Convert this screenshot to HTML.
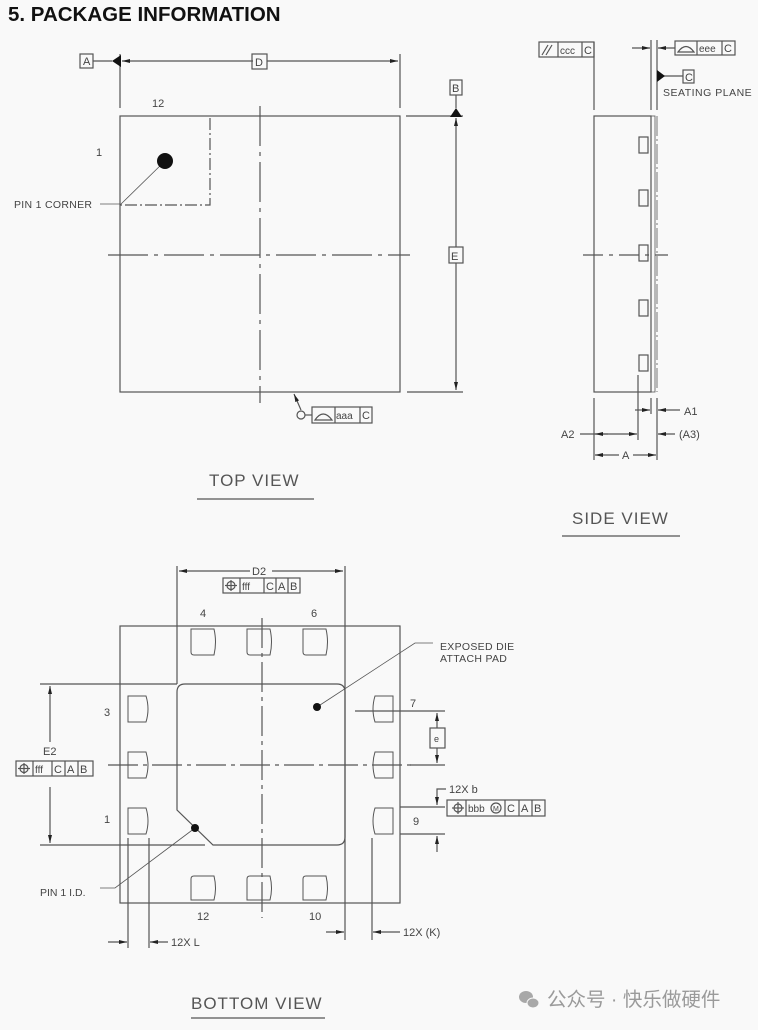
<!DOCTYPE html>
<html><head><meta charset="utf-8"><style>
html,body{margin:0;padding:0;background:#f9f9f9;width:758px;height:1030px;overflow:hidden}
svg{display:block}
text{font-family:"Liberation Sans",sans-serif;fill:#444}
</style></head><body>
<svg width="758" height="1030" viewBox="0 0 758 1030" xmlns="http://www.w3.org/2000/svg">
<defs>
<marker id="ar" markerWidth="8" markerHeight="6" refX="8" refY="3" orient="auto" markerUnits="userSpaceOnUse"><path d="M0,1 L8,3 L0,5Z" fill="#222"/></marker>
</defs>
<text x="8" y="21" style="font-size:20.5px;font-weight:bold;fill:#111">5. PACKAGE INFORMATION</text>

<g stroke="#555" stroke-width="1.2" fill="none">
<!-- TOP VIEW -->
<rect x="120" y="116" width="280" height="276"/>
<line x1="260" y1="106" x2="260" y2="403" stroke-dasharray="40,6,4,6"/>
<line x1="108" y1="255" x2="410" y2="255" stroke-dasharray="40,6,4,6"/>
<polyline points="210,118 210,205 120,205" stroke-dasharray="12,3,2,3"/>
<line x1="165" y1="161" x2="120" y2="205" stroke-width="0.8"/>
<line x1="100" y1="204" x2="120" y2="204" stroke-width="0.8"/>
<line x1="120" y1="54" x2="120" y2="108"/>
<line x1="400" y1="54" x2="400" y2="108"/>
<line x1="253" y1="61" x2="122" y2="61" marker-end="url(#ar)"/>
<line x1="267" y1="61" x2="398" y2="61" marker-end="url(#ar)"/>
<line x1="93" y1="61" x2="112" y2="61"/>
<rect x="80" y="54" width="13" height="14"/>
<rect x="252" y="54" width="15" height="15"/>
<line x1="406" y1="116" x2="463" y2="116"/>
<line x1="407" y1="392" x2="463" y2="392"/>
<line x1="456" y1="95" x2="456" y2="108"/>
<line x1="456" y1="247" x2="456" y2="118" marker-end="url(#ar)"/>
<line x1="456" y1="263" x2="456" y2="390" marker-end="url(#ar)"/>
<rect x="450" y="80" width="12" height="15"/>
<rect x="449" y="247" width="14" height="16"/>
<line x1="301" y1="410" x2="294" y2="394" marker-end="url(#ar)"/>
<circle cx="301" cy="415" r="4"/>
<line x1="305" y1="415" x2="312" y2="415"/>
<rect x="312" y="407" width="60" height="16"/>
<line x1="335" y1="407" x2="335" y2="423"/><line x1="360" y1="407" x2="360" y2="423"/>
<path d="M315,420 Q323,408 332,420 Z"/>
<line x1="197" y1="499" x2="314" y2="499"/>

<!-- SIDE VIEW -->
<rect x="594" y="116" width="57" height="276"/>
<rect x="651" y="116" width="4" height="276" stroke-width="0.8"/>
<line x1="657" y1="116" x2="657" y2="392" stroke-dasharray="20,3,2,3" stroke-width="0.8"/>
<line x1="651" y1="40" x2="651" y2="110"/>
<line x1="657" y1="40" x2="657" y2="110"/>
<line x1="594" y1="42" x2="594" y2="110"/>
<rect x="539" y="42" width="55" height="15"/>
<line x1="558" y1="42" x2="558" y2="57"/><line x1="582" y1="42" x2="582" y2="57"/>
<line x1="542" y1="55" x2="548" y2="45"/><line x1="546" y1="55" x2="552" y2="45"/>
<line x1="632" y1="48" x2="650" y2="48" marker-end="url(#ar)"/>
<line x1="675" y1="48" x2="658" y2="48" marker-end="url(#ar)"/>
<rect x="675" y="41" width="60" height="14"/>
<line x1="697" y1="41" x2="697" y2="55"/><line x1="722" y1="41" x2="722" y2="55"/>
<path d="M678,52 Q686,41 694,52 Z"/>
<line x1="664" y1="76" x2="683" y2="76"/>
<rect x="683" y="70" width="11" height="13"/>
<rect x="639" y="137" width="9" height="16"/><rect x="639" y="190" width="9" height="16"/>
<rect x="639" y="245" width="9" height="16"/><rect x="639" y="300" width="9" height="16"/>
<rect x="639" y="355" width="9" height="16"/>
<line x1="583" y1="255" x2="668" y2="255" stroke-dasharray="20,6,4,6"/>
<line x1="594" y1="398" x2="594" y2="460"/>
<line x1="638" y1="375" x2="638" y2="440"/>
<line x1="651" y1="398" x2="651" y2="414"/>
<line x1="657" y1="398" x2="657" y2="460"/>
<line x1="635" y1="410" x2="650" y2="410" marker-end="url(#ar)"/>
<line x1="680" y1="410" x2="658" y2="410" marker-end="url(#ar)"/>
<line x1="580" y1="434" x2="637" y2="434" marker-end="url(#ar)"/>
<line x1="608" y1="434" x2="595" y2="434" marker-end="url(#ar)"/>
<line x1="675" y1="434" x2="658" y2="434" marker-end="url(#ar)"/>
<line x1="619" y1="455" x2="595" y2="455" marker-end="url(#ar)"/>
<line x1="633" y1="455" x2="656" y2="455" marker-end="url(#ar)"/>
<line x1="562" y1="536" x2="680" y2="536"/>

<!-- BOTTOM VIEW -->
<rect x="120" y="626" width="280" height="277"/>
<path d="M185,684 H337 Q345,684 345,692 V837 Q345,845 337,845 H213 L177,810 V692 Q177,684 185,684 Z"/>
<line x1="262" y1="618" x2="262" y2="918" stroke-dasharray="30,5,4,5"/>
<line x1="108" y1="765" x2="415" y2="765" stroke-dasharray="30,5,4,5"/>
<g stroke-width="1">
<path d="M191,629 H214 Q217,642 214,655 H194 Q191,655 191,652 Z"/>
<path d="M247,629 H270 Q273,642 270,655 H250 Q247,655 247,652 Z"/>
<path d="M303,629 H326 Q329,642 326,655 H306 Q303,655 303,652 Z"/>
<path d="M191,900 V879 Q191,876 194,876 H214 Q217,888 214,900 Z"/>
<path d="M247,900 V879 Q247,876 250,876 H270 Q273,888 270,900 Z"/>
<path d="M303,900 V879 Q303,876 306,876 H326 Q329,888 326,900 Z"/>
<path d="M128,696 H146 Q150,709 146,722 H128 Z"/>
<path d="M128,752 H146 Q150,765 146,778 H128 Z"/>
<path d="M128,808 H146 Q150,821 146,834 H128 Z"/>
<path d="M393,696 H375 Q371,709 375,722 H393 Z"/>
<path d="M393,752 H375 Q371,765 375,778 H393 Z"/>
<path d="M393,808 H375 Q371,821 375,834 H393 Z"/>
</g>
<line x1="177" y1="566" x2="177" y2="684"/>
<line x1="345" y1="566" x2="345" y2="940"/>
<line x1="250" y1="571" x2="179" y2="571" marker-end="url(#ar)"/>
<line x1="272" y1="571" x2="343" y2="571" marker-end="url(#ar)"/>
<rect x="223" y="578" width="77" height="15"/>
<line x1="240" y1="578" x2="240" y2="593"/><line x1="264" y1="578" x2="264" y2="593"/><line x1="276" y1="578" x2="276" y2="593"/><line x1="288" y1="578" x2="288" y2="593"/>
<circle cx="231" cy="585.5" r="4"/><line x1="225" y1="585.5" x2="237" y2="585.5"/><line x1="231" y1="580" x2="231" y2="591"/>
<line x1="40" y1="684" x2="177" y2="684"/>
<line x1="40" y1="845" x2="205" y2="845"/>
<line x1="50" y1="742" x2="50" y2="686" marker-end="url(#ar)"/>
<line x1="50" y1="787" x2="50" y2="843" marker-end="url(#ar)"/>
<rect x="16" y="761" width="77" height="15"/>
<line x1="33" y1="761" x2="33" y2="776"/><line x1="52" y1="761" x2="52" y2="776"/><line x1="65" y1="761" x2="65" y2="776"/><line x1="78" y1="761" x2="78" y2="776"/>
<circle cx="24" cy="768.5" r="4"/><line x1="18" y1="768.5" x2="30" y2="768.5"/><line x1="24" y1="763" x2="24" y2="774"/>
<line x1="355" y1="711" x2="445" y2="711"/>
<line x1="410" y1="765" x2="445" y2="765"/>
<line x1="437" y1="728" x2="437" y2="713" marker-end="url(#ar)"/>
<line x1="437" y1="748" x2="437" y2="763" marker-end="url(#ar)"/>
<rect x="430" y="728" width="15" height="20"/>
<line x1="400" y1="807" x2="445" y2="807"/>
<line x1="400" y1="834" x2="445" y2="834"/>
<polyline points="446,789 437,789 437,805" marker-end="url(#ar)"/>
<line x1="437" y1="852" x2="437" y2="836" marker-end="url(#ar)"/>
<rect x="447" y="800" width="98" height="16"/>
<line x1="466" y1="800" x2="466" y2="816"/><line x1="505" y1="800" x2="505" y2="816"/><line x1="519" y1="800" x2="519" y2="816"/><line x1="532" y1="800" x2="532" y2="816"/>
<circle cx="458" cy="808" r="4"/><line x1="452" y1="808" x2="464" y2="808"/><line x1="458" y1="802" x2="458" y2="814"/>
<circle cx="496" cy="808" r="5"/>
<polyline points="317,707 415,643 433,643" stroke-width="0.8"/>
<polyline points="195,828 115,888 100,888" stroke-width="0.8"/>
<line x1="128" y1="838" x2="128" y2="948"/>
<line x1="149" y1="838" x2="149" y2="948"/>
<line x1="108" y1="942" x2="127" y2="942" marker-end="url(#ar)"/>
<line x1="168" y1="942" x2="150" y2="942" marker-end="url(#ar)"/>
<line x1="372" y1="838" x2="372" y2="940"/>
<line x1="326" y1="932" x2="344" y2="932" marker-end="url(#ar)"/>
<line x1="400" y1="932" x2="373" y2="932" marker-end="url(#ar)"/>
<line x1="191" y1="1018" x2="325" y2="1018"/>
</g>
<g fill="#111">
<circle cx="165" cy="161" r="8"/>
<circle cx="317" cy="707" r="4"/>
<circle cx="195" cy="828" r="4"/>
<path d="M112,61 L121,55 L121,67Z"/>
<path d="M456,108 L450,117 L462,117Z"/>
<path d="M657,70 L665,76 L657,82Z"/>
</g>

<g style="font-size:11px">
<text x="83" y="65">A</text><text x="255" y="66">D</text><text x="452" y="92">B</text><text x="451" y="260">E</text>
<text x="152" y="107">12</text><text x="96" y="156">1</text>
<text x="14" y="208" style="font-size:10.5px;letter-spacing:0.3px">PIN 1 CORNER</text>
<text x="336" y="419" style="font-size:10px">aaa</text><text x="362" y="419">C</text>
<text x="560" y="54" style="font-size:10px">ccc</text><text x="584" y="54">C</text>
<text x="699" y="52" style="font-size:10px">eee</text><text x="724" y="52">C</text>
<text x="685" y="81">C</text>
<text x="663" y="96" style="font-size:10.5px;letter-spacing:0.5px">SEATING PLANE</text>
<text x="684" y="415">A1</text><text x="561" y="438">A2</text><text x="679" y="438">(A3)</text><text x="622" y="459">A</text>
<text x="252" y="575">D2</text>
<text x="242" y="590" style="font-size:10px">fff</text><text x="266" y="590">C</text><text x="278" y="590">A</text><text x="290" y="590">B</text>
<text x="43" y="755">E2</text>
<text x="35" y="773" style="font-size:10px">fff</text><text x="54" y="773">C</text><text x="67" y="773">A</text><text x="80" y="773">B</text>
<text x="200" y="617">4</text><text x="311" y="617">6</text><text x="104" y="716">3</text><text x="104" y="823">1</text>
<text x="410" y="707">7</text><text x="413" y="825">9</text><text x="197" y="920">12</text><text x="309" y="920">10</text>
<text x="434" y="742" style="font-size:9px">e</text>
<text x="449" y="793">12X b</text>
<text x="468" y="812" style="font-size:10px">bbb</text><text x="493" y="811" style="font-size:7px">M</text><text x="507" y="812">C</text><text x="521" y="812">A</text><text x="534" y="812">B</text>
<text x="440" y="650" style="font-size:10.5px;letter-spacing:0.3px">EXPOSED DIE</text>
<text x="440" y="662" style="font-size:10.5px;letter-spacing:0.3px">ATTACH PAD</text>
<text x="40" y="896" style="font-size:10.5px">PIN 1 I.D.</text>
<text x="171" y="946">12X L</text><text x="403" y="936">12X (K)</text>
</g>
<g style="font-size:17px;letter-spacing:1px">
<text x="209" y="486" style="fill:#555">TOP  VIEW</text>
<text x="572" y="524" style="fill:#555">SIDE  VIEW</text>
<text x="191" y="1009" style="fill:#555">BOTTOM  VIEW</text>
</g>
<g fill="#a8a8a8">
<ellipse cx="526" cy="997" rx="7" ry="6"/>
<ellipse cx="533" cy="1003" rx="6" ry="5" stroke="#f9f9f9" stroke-width="1"/>
</g>
<text x="547" y="1006" style="font-family:'Liberation Sans','Noto Sans CJK SC',sans-serif;font-size:19.5px;fill:#9a9a9a">公众号 · 快乐做硬件</text>
</svg>
</body></html>
